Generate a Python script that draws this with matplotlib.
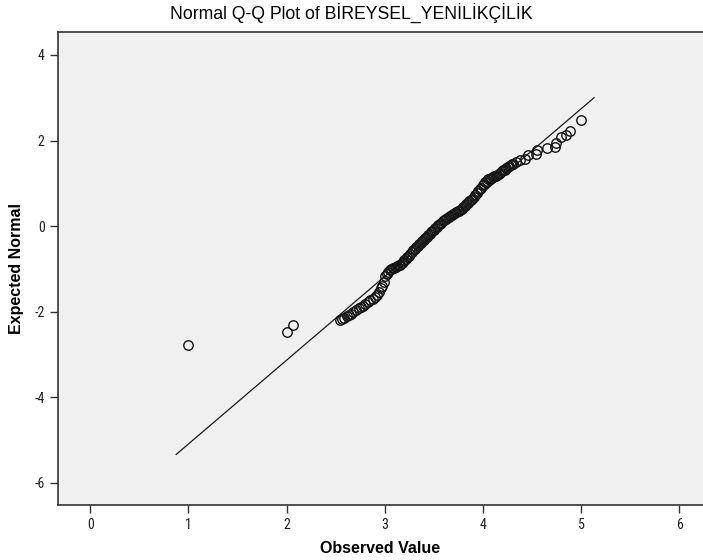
import matplotlib
matplotlib.use("Agg")
import matplotlib.pyplot as plt
from matplotlib import font_manager

# fonte estreita para os números dos eixos, Arial-like para os textos
nomes = {f.name for f in font_manager.fontManager.ttflist}
fonte_estreita = "Liberation Sans"
for candidata in ["Liberation Sans Narrow", "Arial Narrow", "Roboto Condensed", "DejaVu Sans Condensed"]:
    if candidata in nomes:
        fonte_estreita = candidata
        break
fonte_texto = ["Liberation Sans", "DejaVu Sans"]
plt.rcParams["font.family"] = [fonte_estreita, "DejaVu Sans"]
plt.rcParams["axes.unicode_minus"] = False

titulo = "Normal Q-Q Plot of BİREYSEL_YENİLİKÇİLİK"

# valores observados e normais esperados lidos do gráfico
# cauda inferior
obs_inferior = [1.00, 2.00, 2.07,
                2.54, 2.56, 2.58, 2.61, 2.64, 2.66, 2.68, 2.71, 2.74, 2.76,
                2.78, 2.80, 2.83, 2.85, 2.88, 2.90, 2.92, 2.94]
esp_inferior = [-2.78, -2.47, -2.31,
                -2.19, -2.17, -2.15, -2.10, -2.07, -2.05, -2.02, -1.97, -1.91, -1.89,
                -1.86, -1.82, -1.77, -1.74, -1.70, -1.66, -1.61, -1.55]
# faixa central (muito densa)
obs_central = [2.960, 2.975, 2.990, 3.005, 3.020, 3.035, 3.050, 3.065, 3.080, 3.095,
               3.110, 3.125, 3.140, 3.155, 3.170, 3.185, 3.200, 3.215, 3.230, 3.245,
               3.260, 3.275, 3.290, 3.305, 3.320, 3.335, 3.350, 3.365, 3.380, 3.395,
               3.410, 3.425, 3.440, 3.455, 3.470, 3.485, 3.500, 3.515, 3.530, 3.545,
               3.560, 3.575, 3.590, 3.605, 3.620, 3.635, 3.650, 3.665, 3.680, 3.695,
               3.710, 3.725, 3.740, 3.755, 3.770, 3.785, 3.800, 3.815, 3.830, 3.845,
               3.860, 3.875, 3.890, 3.905, 3.920, 3.935, 3.950, 3.965, 3.980, 3.995,
               4.010, 4.025, 4.040, 4.055, 4.070, 4.085, 4.100, 4.115, 4.130, 4.145,
               4.160, 4.175, 4.190, 4.205, 4.220, 4.235, 4.250, 4.265, 4.280, 4.295,
               4.310]
esp_central = [-1.46, -1.40, -1.30, -1.18, -1.11, -1.07, -1.03, -1.01, -0.99, -0.98,
               -0.96, -0.94, -0.92, -0.90, -0.87, -0.84, -0.80, -0.77, -0.73, -0.69,
               -0.65, -0.61, -0.57, -0.53, -0.49, -0.46, -0.42, -0.39, -0.35, -0.32,
               -0.28, -0.25, -0.22, -0.18, -0.15, -0.12, -0.09, -0.05, -0.02, 0.02,
               0.05, 0.08, 0.11, 0.13, 0.16, 0.18, 0.21, 0.23, 0.25, 0.28,
               0.30, 0.32, 0.34, 0.36, 0.38, 0.41, 0.44, 0.47, 0.51, 0.55,
               0.58, 0.61, 0.64, 0.68, 0.72, 0.77, 0.81, 0.86, 0.90, 0.95,
               0.99, 1.03, 1.06, 1.09, 1.11, 1.13, 1.15, 1.17, 1.18, 1.20,
               1.22, 1.25, 1.28, 1.30, 1.32, 1.35, 1.38, 1.40, 1.42, 1.44,
               1.46]
# cauda superior
obs_superior = [4.34, 4.38, 4.43, 4.46, 4.54, 4.55, 4.65, 4.73, 4.74, 4.79, 4.84, 4.89, 5.00]
esp_superior = [1.50, 1.55, 1.57, 1.65, 1.69, 1.77, 1.82, 1.84, 1.94, 2.08, 2.13, 2.22, 2.49]

# linha de referência: média e desvio padrão
media = 3.60
desvio = 0.51
linha_x = [0.876, 5.13]

xticks = [0, 1, 2, 3, 4, 5, 6]
yticks = [-6, -4, -2, 0, 2, 4]

fig = plt.figure(figsize=(7.03, 5.60), dpi=100)
ax = fig.add_axes([0.0821, 0.0977, 0.918, 0.8446])
ax.set_facecolor("#f0f0f0")

linha_y = [(x - media) / desvio for x in linha_x]
ax.plot(linha_x, linha_y, color="#1a1a1a", linewidth=0.9, zorder=2)

observado = obs_inferior + obs_central + obs_superior
esperado = esp_inferior + esp_central + esp_superior
ax.plot(observado, esperado, linestyle="none", marker="o", markersize=6.8,
        markerfacecolor="none", markeredgecolor="#151515", markeredgewidth=1.0, zorder=3)

ax.set_xlim(-0.33, 6.24)
ax.set_ylim(-6.53, 4.53)
ax.set_xticks(xticks)
ax.set_yticks(yticks)
ax.tick_params(direction="out", length=6, width=1.0, color="#333333",
               labelsize=10, labelcolor="#222222")
for lado in ["left", "bottom", "top"]:
    ax.spines[lado].set_color("#333333")
    ax.spines[lado].set_linewidth(1.2)
ax.spines["right"].set_visible(False)

fig.text(0.5, 1 - 13 / 560, titulo, fontsize=12.7, family=fonte_texto, ha="center", va="center")
ax.set_xlabel("Observed Value", fontsize=11.5, fontweight="bold", family=fonte_texto)
ax.xaxis.set_label_coords(0.5, -0.076)
ax.set_ylabel("Expected Normal", fontsize=11.5, fontweight="bold", family=fonte_texto)
ax.yaxis.set_label_coords(-0.052, 0.5)

fig.savefig("out.png", dpi=100)
